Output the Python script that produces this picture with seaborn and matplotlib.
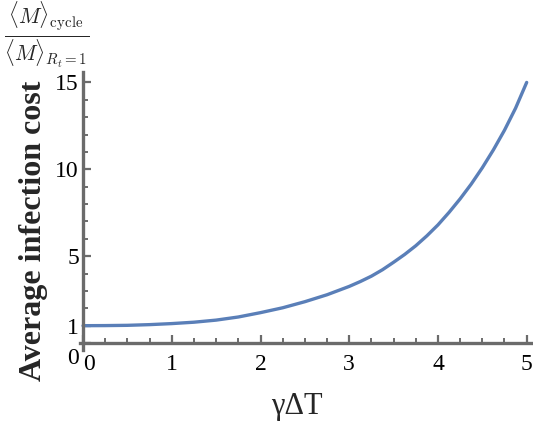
import numpy as np
import pandas as pd
import seaborn as sns
import matplotlib.pyplot as plt
from matplotlib.ticker import MultipleLocator, FixedLocator
from matplotlib.transforms import ScaledTranslation

# values
gamma_dt = [0.0, 0.25, 0.5, 0.75, 1.0, 1.25, 1.5, 1.75, 2.0, 2.25, 2.5,
            2.75, 3.0, 3.125, 3.25, 3.375, 3.5, 3.625, 3.75, 3.875, 4.0,
            4.125, 4.25, 4.375, 4.5, 4.625, 4.75, 4.875, 5.0]
cost_ratio = [1.00, 1.005, 1.02, 1.06, 1.12, 1.20, 1.32, 1.50, 1.75, 2.03, 2.38,
              2.78, 3.26, 3.54, 3.85, 4.22, 4.65, 5.10, 5.60, 6.17, 6.80,
              7.52, 8.30, 9.15, 10.09, 11.12, 12.25, 13.52, 15.0]
x_ticks = [0, 1, 2, 3, 4, 5]
y_ticks = [0, 1, 5, 10, 15]

sns.set_style('ticks')
plt.rcParams['font.family'] = ['Liberation Serif', 'DejaVu Serif']
plt.rcParams['mathtext.fontset'] = 'cm'

df = pd.DataFrame({'x': gamma_dt, 'y': cost_ratio})

fig = plt.figure(figsize=(5.33, 4.23), dpi=100)
W, H = 533, 423
left, right, top, bottom = 79.5, 532, 72, 350
ax = fig.add_axes([left / W, 1 - bottom / H, (right - left) / W, (bottom - top) / H])

sns.lineplot(data=df, x='x', y='y', ax=ax, color='#5a7fb8', linewidth=2.4)

ax.set_xlim(-0.04, 5.06)
ax.set_ylim(-0.4, 15.6)

axis_col = '#6b6b6b'
for side in ['top', 'right']:
    ax.spines[side].set_visible(False)
ax.spines['left'].set_position(('data', 0))
ax.spines['bottom'].set_position(('data', 0))
for side in ['left', 'bottom']:
    ax.spines[side].set_color(axis_col)
    ax.spines[side].set_linewidth(2.4)

ax.xaxis.set_major_locator(FixedLocator(x_ticks))
ax.xaxis.set_minor_locator(MultipleLocator(0.25))
ax.yaxis.set_major_locator(FixedLocator(y_ticks))
ax.yaxis.set_minor_locator(MultipleLocator(1))
ax.tick_params(which='both', bottom=True, left=True, top=False, right=False)
ax.tick_params(which='major', direction='in', length=6, width=1.6,
               color=axis_col, labelsize=17, labelcolor='black')
ax.tick_params(which='minor', direction='in', length=3.5, width=1.4, color=axis_col)
ax.tick_params(axis='x', which='major', pad=8)
ax.tick_params(axis='y', which='major', pad=3)

# nudge the two zero labels away from the crossing axes
fig.canvas.draw()
ax.yaxis.get_major_ticks()[0].label1.set_transform(
    ax.yaxis.get_major_ticks()[0].label1.get_transform()
    + ScaledTranslation(0, -9 / 72, fig.dpi_scale_trans))
ax.xaxis.get_major_ticks()[0].label1.set_transform(
    ax.xaxis.get_major_ticks()[0].label1.get_transform()
    + ScaledTranslation(4 / 72, 0, fig.dpi_scale_trans))

ax.set_xlabel(r'γΔT', fontsize=22)
ax.xaxis.set_label_coords(0.48, -0.15)
ax.set_ylabel('Average infection cost', fontsize=23, fontweight='bold')
ax.yaxis.set_label_coords(-0.07, 0.43)

fig.text(0.008, 0.998,
         r'$\frac{\langle M\rangle_{\mathrm{cycle}}}{\langle M\rangle_{R_t=1}}$',
         fontsize=22, ha='left', va='top')

fig.savefig('out.png', dpi=100)
